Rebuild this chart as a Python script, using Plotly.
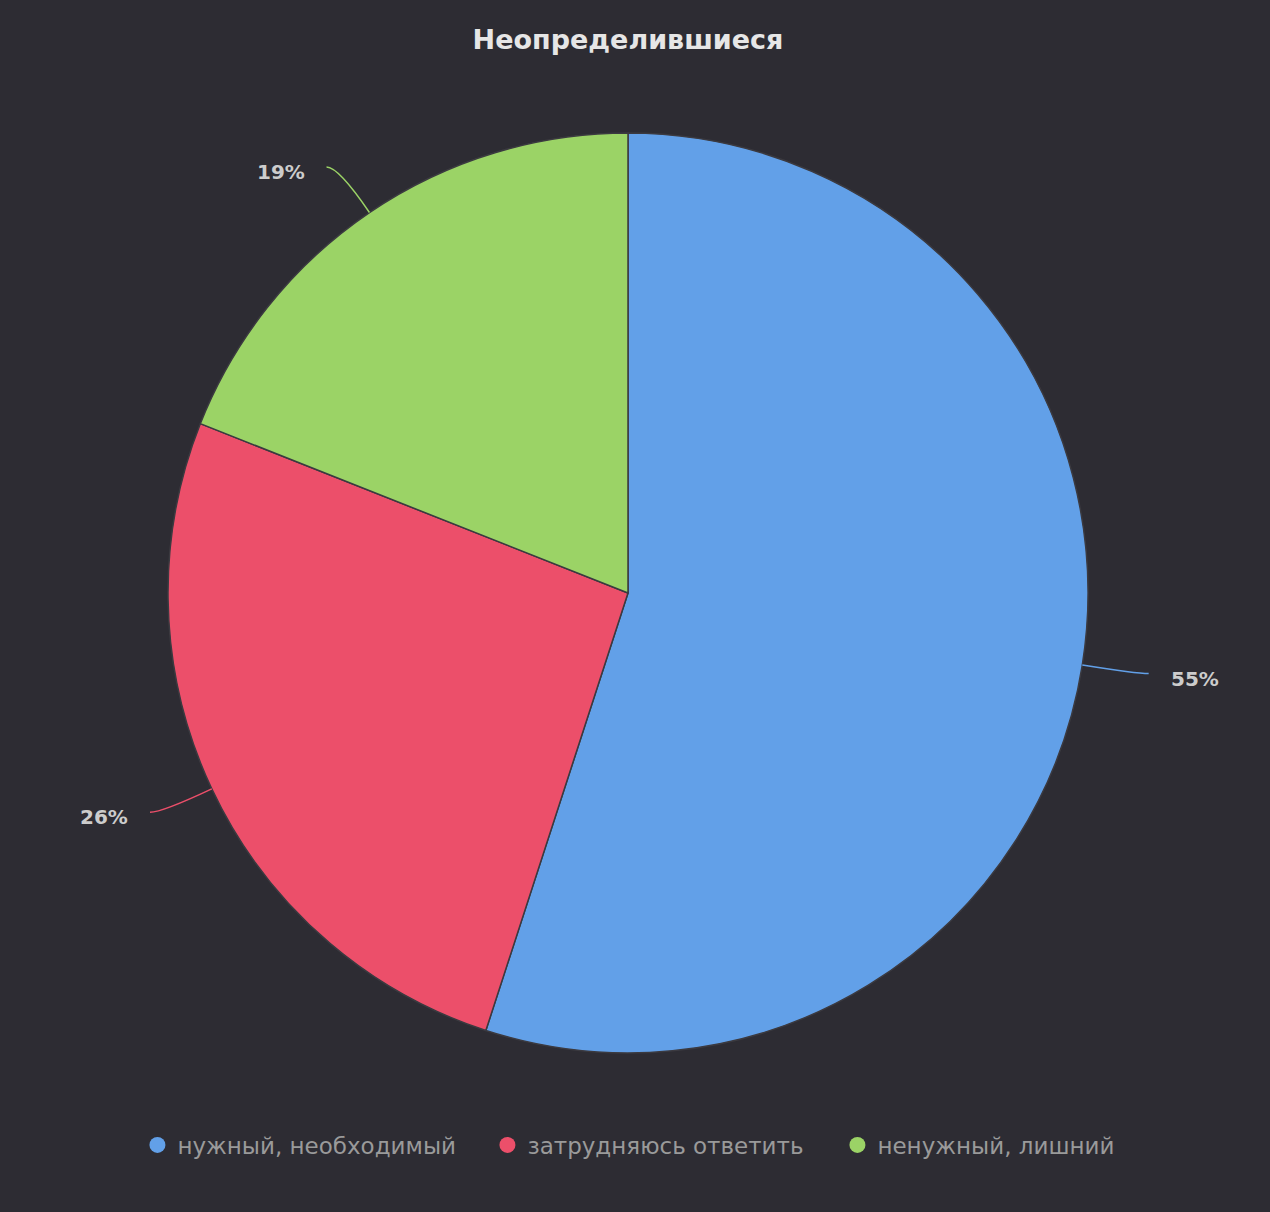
import numpy as np
import plotly.graph_objects as go

labels = ["нужный, необходимый", "затрудняюсь ответить", "ненужный, лишний"]
values = [55, 26, 19]
colors = ["#62a0e8", "#ec4f6a", "#9bd366"]
title = "Неопределившиеся"

W, H = 1270, 1212
cx, cy, R = 628, 593, 460
BG = "#2d2c33"


def px(x):
    return x / W


def py(y):
    return 1 - y / H


fig = go.Figure()
fig.add_trace(go.Pie(
    labels=labels, values=values, sort=False, direction="clockwise", rotation=0,
    marker=dict(colors=colors, line=dict(color="#3b3a40", width=1.5)),
    textinfo="none", showlegend=False, hoverinfo="label+percent",
    domain=dict(x=[px(cx - R), px(cx + R)], y=[py(cy + R), py(cy - R)]),
))

for lab, col in zip(labels, colors):
    fig.add_trace(go.Scatter(
        x=[None], y=[None], mode="markers", name=lab,
        marker=dict(color=col, size=22, symbol="circle"), showlegend=True,
        hoverinfo="skip",
    ))

total = sum(values)
cum = 0
shapes = []
annotations = []
for v, col in zip(values, colors):
    mid = (cum + v / 2) / total * 2 * np.pi
    cum += v
    ux, uy = np.sin(mid), -np.cos(mid)
    ax_, ay_ = cx + R * ux, cy + R * uy
    bx, by = ax_ + 55 * ux, ay_ + 55 * uy
    side = 1 if ux >= 0 else -1
    ex, ey = bx + 12 * side, by
    path = f"M {px(ax_)},{py(ay_)} Q {px(bx)},{py(by)} {px(ex)},{py(ey)}"
    shapes.append(dict(type="path", path=path, xref="paper", yref="paper",
                       line=dict(color=col, width=1.5)))
    annotations.append(dict(
        text=f"<b>{round(v / total * 100)}%</b>", x=px(ex + 20 * side), y=py(ey + 5),
        xref="paper", yref="paper", xanchor="left" if side > 0 else "right",
        yanchor="middle", showarrow=False,
        font=dict(size=20, color="#cccccc", family="DejaVu Sans"),
    ))

fig.update_layout(
    width=W, height=H,
    paper_bgcolor=BG, plot_bgcolor=BG,
    margin=dict(l=0, r=0, t=0, b=0),
    title=dict(text=f"<b>{title}</b>", x=px(cx), y=1 - 40 / H, xref="paper", yref="container",
               xanchor="center", yanchor="middle",
               font=dict(size=27, color="#e6e6e6", family="DejaVu Sans")),
    xaxis=dict(visible=False), yaxis=dict(visible=False),
    showlegend=True,
    legend=dict(orientation="h", x=0.5216, xanchor="center", y=py(1145), yanchor="middle",
                font=dict(size=23, color="#9a9a9a", family="DejaVu Sans"),
                entrywidth=305, entrywidthmode="pixels",
                bgcolor="rgba(0,0,0,0)"),
    shapes=shapes, annotations=annotations,
)

fig.write_html("out.html", config={"displayModeBar": False},
               post_script="document.body.style.margin='0';")
